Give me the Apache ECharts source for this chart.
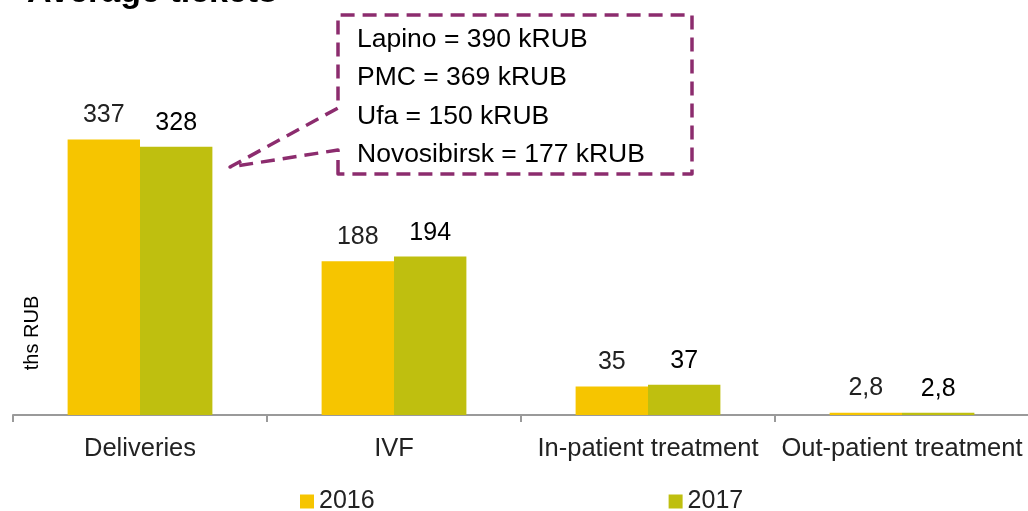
<!DOCTYPE html>
<html>
<head>
<meta charset="utf-8">
<script src="https://cdn.jsdelivr.net/npm/echarts@6/dist/echarts.min.js"></script>
<style>
  html, body { margin: 0; padding: 0; background: #fff; }
  #chart { width: 1028px; height: 511px; }
</style>
</head>
<body>
<div id="chart"></div>
<script>
// data
const categories = ["Deliveries", "IVF", "In-patient treatment", "Out-patient treatment"];
const seriesNames = ["2016", "2017"];
const values2016 = [337, 188, 35, 2.8];
const values2017 = [328, 194, 37, 2.8];
const calloutNames = ["Lapino", "PMC", "Ufa", "Novosibirsk"];
const calloutValues = ["390 kRUB", "369 kRUB", "150 kRUB", "177 kRUB"];

const FONT = "'Liberation Sans', Arial, sans-serif";
const PURPLE = "#8c2c6e";

// value labels use a comma as decimal mark
const fmt = (p) => String(p.value).replace(".", ",");

const chart = echarts.init(document.getElementById("chart"));

const calloutText = calloutNames.map((name, i) => ({
  type: "text",
  left: 357,
  top: 26 + i * 38.5,
  style: {
    text: "{a|" + name + " = }{b|" + calloutValues[i] + "}",
    rich: {
      a: { fontSize: 26.5, fontFamily: FONT, color: "#222" },
      b: { fontSize: 26.5, fontFamily: FONT, color: "#000" },
    },
  },
}));

const option = {
  animation: false,
  textStyle: { fontFamily: FONT },
  grid: {
    left: 13,
    right: -1,
    top: 88,
    bottom: 96,
    containLabel: false,
    outerBoundsMode: "none",
  },
  legend: {
    data: seriesNames,
    left: 300,
    top: 489,
    padding: 0,
    icon: "rect",
    itemWidth: 14,
    itemHeight: 14,
    itemGap: 294,
    textStyle: { fontSize: 25, color: "#222", fontFamily: FONT },
  },
  xAxis: {
    type: "category",
    data: categories,
    axisLine: { lineStyle: { color: "#9a9a9a", width: 2 } },
    axisTick: {
      show: true,
      alignWithLabel: false,
      interval: 0,
      length: 7,
      lineStyle: { color: "#9a9a9a", width: 2 },
    },
    axisLabel: {
      interval: 0,
      margin: 21,
      fontSize: 25.5,
      color: "#222",
      fontFamily: FONT,
    },
  },
  yAxis: {
    type: "value",
    min: 0,
    max: 400,
    show: false,
  },
  series: [
    {
      name: seriesNames[0],
      type: "bar",
      data: values2016,
      barGap: "0%",
      barCategoryGap: "43%",
      itemStyle: { color: "#f6c500" },
      label: {
        show: true,
        position: "top",
        distance: 12,
        fontSize: 25,
        color: "#222",
        fontFamily: FONT,
        formatter: fmt,
      },
    },
    {
      name: seriesNames[1],
      type: "bar",
      data: values2017,
      barGap: "0%",
      barCategoryGap: "43%",
      itemStyle: { color: "#bfbf0f" },
      label: {
        show: true,
        position: "top",
        distance: 11,
        fontSize: 25,
        color: "#000",
        fontFamily: FONT,
        formatter: fmt,
      },
    },
  ],
  graphic: [
    {
      type: "text",
      left: 27,
      top: -24,
      style: {
        text: "Average tickets",
        fontSize: 34,
        fontWeight: "bold",
        fontFamily: FONT,
        fill: "#000",
      },
    },
    {
      type: "text",
      x: 32,
      y: 333,
      rotation: Math.PI / 2,
      style: {
        text: "ths RUB",
        fontSize: 20,
        fontFamily: FONT,
        fill: "#000",
        align: "center",
        verticalAlign: "middle",
      },
    },
    {
      type: "polygon",
      shape: {
        points: [
          [338, 174], [338, 150], [230, 167], [338, 108],
          [338, 15], [692, 15], [692, 174],
        ],
      },
      style: {
        fill: "none",
        stroke: PURPLE,
        lineWidth: 3.5,
        lineDash: [14, 8],
        lineJoin: "round",
      },
    },
    ...calloutText,
  ],
};

chart.setOption(option);
</script>
</body>
</html>
